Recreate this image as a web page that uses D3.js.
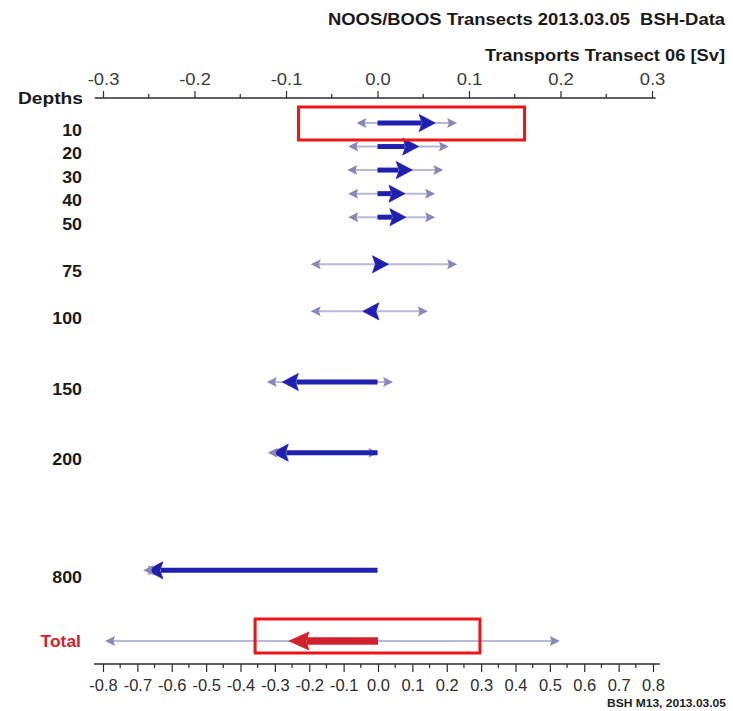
<!DOCTYPE html>
<html>
<head>
<meta charset="utf-8">
<script src="https://cdn.jsdelivr.net/npm/d3@7/dist/d3.min.js"></script>
<style>
  html, body { margin: 0; padding: 0; background: #fff; }
  svg { display: block; font-family: "Liberation Sans", Arial, Helvetica, sans-serif; }
  text { white-space: pre; }
</style>
</head>
<body>
<svg id="chart" width="733" height="711"></svg>
<script>
// ---------------- DATA ----------------
const depthLabels = ["10", "20", "30", "40", "50", "75", "100", "150", "200", "800"];
const depthSlots  = [0, 1, 2, 3, 4, 6, 8, 11, 14, 19];      // row index (gaps between groups)
const transport   = [0.063, 0.045, 0.038, 0.030, 0.031, 0.012, -0.016, -0.104, -0.115, -0.252];
const rangeMin    = [-0.023, -0.032, -0.033, -0.032, -0.032, -0.073, -0.073, -0.121, -0.120, -0.256];
const rangeMax    = [0.087, 0.078, 0.072, 0.063, 0.063, 0.087, 0.055, 0.017, 0.001, -0.240];

const totalLabel = "Total";
const totalSlot  = 22;
const totalValue = -0.259;
const totalMin   = -0.794;
const totalMax   = 0.529;

const topTicks    = [-0.3, -0.2, -0.1, 0.0, 0.1, 0.2, 0.3];
const bottomTicks = [-0.8, -0.7, -0.6, -0.5, -0.4, -0.3, -0.2, -0.1, 0.0, 0.1, 0.2, 0.3, 0.4, 0.5, 0.6, 0.7, 0.8];

const titleText    = "NOOS/BOOS Transects 2013.03.05  BSH-Data";
const subtitleText = "Transports Transect 06 [Sv]";
const footerText   = "BSH M13, 2013.03.05";

// highlight boxes (annotation) in value space
const highlightAxis = ["top", "bottom"];
const highlightFrom = [-0.0863, -0.3576];
const highlightTo   = [0.1607, 0.2965];
const highlightSlot = [0, 22];

// ---------------- CHART ----------------
const svg = d3.select("#chart");

const xTop = d3.scaleLinear().domain([-0.3, 0.3]).range([103, 652]);
const xBot = d3.scaleLinear().domain([-0.8, 0.8]).range([103, 653]);
const yRow = d3.scaleLinear().domain([0, 22]).range([123, 641]);

const BLUE = "#2020b0";
const RED = "#d0222e";
const GRAYLINE = "#b8b8d8";
const GRAYHEAD = "#8787b8";
const AXIS = "#2b2b2b";

function stretch(sel, factor) {
  sel.each(function () {
    const w = this.getComputedTextLength();
    d3.select(this).attr("textLength", w * factor).attr("lengthAdjust", "spacingAndGlyphs");
  });
  return sel;
}

// Titles
svg.append("text").attr("x", 725).attr("y", 25).attr("text-anchor", "end")
  .attr("font-size", 17).attr("font-weight", "bold").attr("fill", "#1a1a1a").text(titleText)
  .attr("textLength", 397).attr("lengthAdjust", "spacingAndGlyphs");
svg.append("text").attr("x", 725).attr("y", 61).attr("text-anchor", "end")
  .attr("font-size", 17).attr("font-weight", "bold").attr("fill", "#1a1a1a").text(subtitleText)
  .attr("textLength", 240).attr("lengthAdjust", "spacingAndGlyphs");

// Top axis
const topY = 98;
svg.append("line").attr("x1", xTop(-0.309)).attr("x2", xTop(0.304))
  .attr("y1", topY).attr("y2", topY).attr("stroke", AXIS).attr("stroke-width", 1.6);
const topAxis = d3.axisTop(xTop).tickValues(topTicks)
  .tickFormat(d => d3.format(".1f")(d).replace("−", "-"))
  .tickSize(7).tickPadding(6);
const gTop = svg.append("g").attr("transform", `translate(0,${topY})`).call(topAxis);
gTop.select(".domain").remove();
gTop.selectAll(".tick line").attr("stroke", AXIS).attr("stroke-width", 1.2);
stretch(gTop.selectAll(".tick text").attr("font-size", 16).attr("fill", "#3a3a3a")
  .attr("font-family", "Liberation Sans, Arial, sans-serif"), 1.15);
const topMinor = d3.range(-0.25, 0.3, 0.1);
svg.append("g").selectAll("line").data(topMinor).join("line")
  .attr("x1", d => xTop(d)).attr("x2", d => xTop(d))
  .attr("y1", topY).attr("y2", topY - 4).attr("stroke", AXIS).attr("stroke-width", 1.2);

// "Depths" label
svg.append("text").attr("x", 83).attr("y", 104).attr("text-anchor", "end")
  .attr("font-size", 17).attr("font-weight", "bold").attr("fill", "#1a1a1a").text("Depths")
  .attr("textLength", 65).attr("lengthAdjust", "spacingAndGlyphs");

// Depth labels
stretch(svg.append("g").selectAll("text").data(depthLabels).join("text")
  .attr("x", 82).attr("y", (d, i) => yRow(depthSlots[i]) + 12.5)
  .attr("text-anchor", "end").attr("font-size", 16.5).attr("font-weight", "bold")
  .attr("fill", "#1a1a1a").text(d => d), 1.08);

// Total label
stretch(svg.append("text").attr("x", 81).attr("y", yRow(totalSlot) + 5.5)
  .attr("text-anchor", "end").attr("font-size", 16.5).attr("font-weight", "bold")
  .attr("fill", RED).text(totalLabel), 1.06);

// helpers
function headPath(xTip, y, dir, len, hw) {
  const xb = xTip - dir * len;
  return `M${xTip},${y} L${xb},${y - hw} L${xb + dir * len * 0.18},${y} L${xb},${y + hw} Z`;
}
function rangeLine(g, xs, lo, hi, y) {
  g.append("line").attr("x1", xs(lo) + 4).attr("x2", xs(hi) - 4).attr("y1", y).attr("y2", y)
    .attr("stroke", GRAYLINE).attr("stroke-width", 2);
}
function rangeHead(g, xs, v, dir, y) {
  g.append("path").attr("d", headPath(xs(v), y, dir, 10, 5)).attr("fill", GRAYHEAD);
}
function mainArrow(g, xs, v, y, color, sw, len, hw) {
  const x0 = xs(0), xt = xs(v);
  const dir = v >= 0 ? 1 : -1;
  const xb = xt - dir * len;
  if ((xb - x0) * dir > 0) {
    g.append("line").attr("x1", x0).attr("x2", xb + dir * 2).attr("y1", y).attr("y2", y)
      .attr("stroke", color).attr("stroke-width", sw).attr("stroke-linecap", "butt");
  }
  g.append("path").attr("d", `M${xt},${y} L${xb},${y - hw} L${xb + dir * 3},${y} L${xb},${y + hw} Z`)
    .attr("fill", color).attr("stroke", color).attr("stroke-width", 0.8).attr("stroke-linejoin", "round");
}

// Depth rows
const gRows = svg.append("g");
depthLabels.forEach((lab, i) => {
  const y = yRow(depthSlots[i]);
  const g = gRows.append("g");
  rangeLine(g, xTop, rangeMin[i], rangeMax[i], y);
  rangeHead(g, xTop, rangeMax[i], 1, y);
  mainArrow(g, xTop, transport[i], y, BLUE, 5, 16, 8.5);
  rangeHead(g, xTop, rangeMin[i], -1, y);
});

// Total row
{
  const y = yRow(totalSlot);
  const g = svg.append("g");
  rangeLine(g, xBot, totalMin, totalMax, y);
  rangeHead(g, xBot, totalMin, -1, y);
  rangeHead(g, xBot, totalMax, 1, y);
  mainArrow(g, xBot, totalValue, y, RED, 7.5, 20, 9);
}

// Bottom axis
const botY = 664;
svg.append("line").attr("x1", xBot(-0.826)).attr("x2", xBot(0.82))
  .attr("y1", botY).attr("y2", botY).attr("stroke", AXIS).attr("stroke-width", 1.6);
const botAxis = d3.axisBottom(xBot).tickValues(bottomTicks).tickSize(8).tickPadding(7)
  .tickFormat(d => d3.format(".1f")(d).replace("−", "-"));
const gBot = svg.append("g").attr("transform", `translate(0,${botY})`).call(botAxis);
gBot.select(".domain").remove();
gBot.selectAll(".tick line").attr("stroke", AXIS).attr("stroke-width", 1.2);
gBot.selectAll(".tick text").attr("font-size", 16.5).attr("fill", "#2e2e2e")
  .attr("font-family", "Liberation Sans, Arial, sans-serif");
const botMinor = d3.range(-0.75, 0.8, 0.1);
svg.append("g").selectAll("line").data(botMinor).join("line")
  .attr("x1", d => xBot(d)).attr("x2", d => xBot(d))
  .attr("y1", botY).attr("y2", botY + 4).attr("stroke", AXIS).attr("stroke-width", 1.2);

// Footer
svg.append("text").attr("x", 726).attr("y", 707).attr("text-anchor", "end")
  .attr("font-size", 10.5).attr("font-weight", "bold").attr("fill", "#222").text(footerText)
  .attr("textLength", 119).attr("lengthAdjust", "spacingAndGlyphs");

// Highlight boxes
svg.append("g").selectAll("rect").data(highlightAxis).join("rect")
  .attr("x", (d, i) => (d === "top" ? xTop : xBot)(highlightFrom[i]))
  .attr("width", (d, i) => (d === "top" ? xTop : xBot)(highlightTo[i]) - (d === "top" ? xTop : xBot)(highlightFrom[i]))
  .attr("y", (d, i) => yRow(highlightSlot[i]) + (d === "top" ? -16 : -22))
  .attr("height", (d, i) => d === "top" ? 33 : 34)
  .attr("fill", "none").attr("stroke", "#f21414").attr("stroke-width", 3);
</script>
</body>
</html>
